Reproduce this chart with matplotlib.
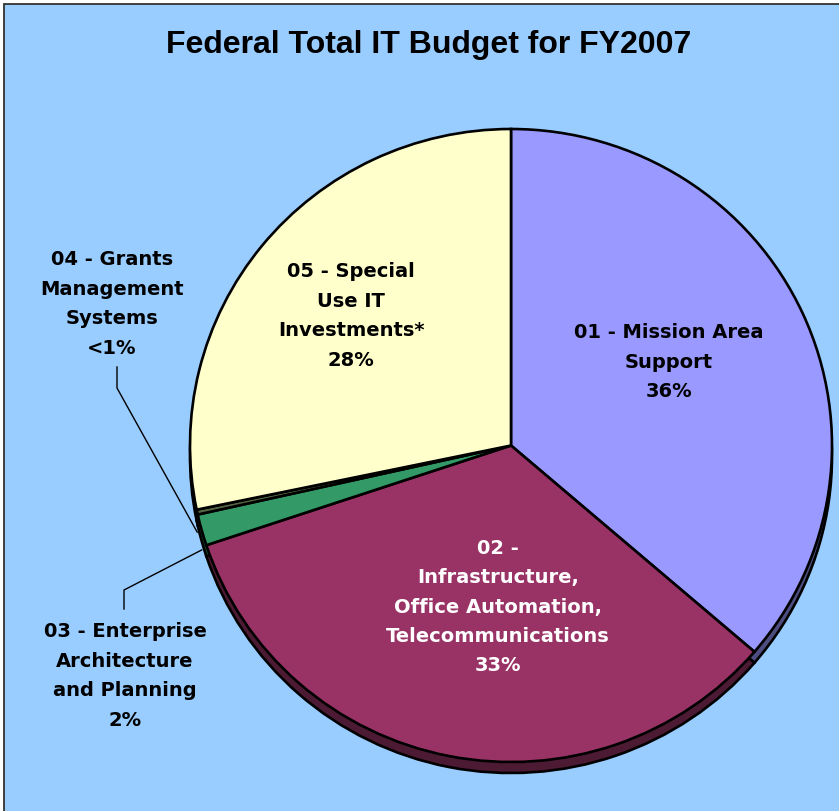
import matplotlib
matplotlib.use('Agg')
import matplotlib.pyplot as plt
from matplotlib.patches import Rectangle
import numpy as np

# ---- data ----
categories = ["01 - Mission Area\nSupport",
              "02 -\nInfrastructure,\nOffice Automation,\nTelecommunications",
              "03 - Enterprise\nArchitecture\nand Planning",
              "04 - Grants\nManagement\nSystems",
              "05 - Special\nUse IT\nInvestments*"]
shares = [36.3, 33.6, 1.6, 0.25, 28.25]
pct_labels = ["36%", "33%", "2%", "<1%", "28%"]
title = "Federal Total IT Budget for FY2007"

# ---- style ----
colors = ["#9999FF", "#993366", "#339966", "#556644", "#FFFFCC"]
side_colors = ["#4D4D80", "#4D1A33", "#1A4D33", "#333322", "#808066"]
text_colors = ["black", "white", "black", "black", "black"]
label_pos = [(669, 362), (498, 607), (125, 676), (112, 304), (351, 316)]

W, H = 839, 812
RX, RY = 321.0, 316.5
CX, CY = 511.0, 446.5
DEPTH = 11.0

fig = plt.figure(figsize=(W / 100, H / 100), dpi=100)
fig.patch.set_facecolor('white')
fig.patches.append(Rectangle((4 / W, -0.02), 1.2, (H - 5) / H + 0.02,
                             transform=fig.transFigure, facecolor='#99CCFF',
                             edgecolor='#333333', lw=1.3, zorder=-5))

ax = fig.add_axes([0, 0, 1, 1])
ax.set_facecolor('none')
ax.set_zorder(1)


def px(x, y):
    return ((x - CX) / RX, (CY - y) / RY)


wp = dict(edgecolor='black', linewidth=1.9)
ax.pie(shares, colors=side_colors, startangle=90, counterclock=False,
       center=(0, -DEPTH / RY), wedgeprops=wp)
wedges, _ = ax.pie(shares, colors=colors, startangle=90, counterclock=False,
                   center=(0, 0), wedgeprops=wp)

ax.set_aspect('auto')
ax.set_xlim(-CX / RX, (W - CX) / RX)
ax.set_ylim(-(H - CY) / RY, CY / RY)
ax.axis('off')

label_font = dict(family=['DejaVu Sans'], fontsize=14, fontweight='bold')
for cat, pct, pos, tc in zip(categories, pct_labels, label_pos, text_colors):
    x, y = px(*pos)
    ax.text(x, y, cat + "\n" + pct, ha='center', va='center', multialignment='center',
            color=tc, linespacing=1.69, **label_font)

# leader lines for the two small slices
leaders = {2: ((124, 610), (124, 591)), 3: ((117, 368), (117, 389))}
for i, (p0, p1) in leaders.items():
    w = wedges[i]
    th = np.deg2rad((w.theta1 + w.theta2) / 2)
    ex, ey = np.cos(th), np.sin(th) - 20 / RY
    a = px(*p0)
    b = px(*p1)
    ax.plot([a[0], b[0], ex], [a[1], b[1], ey], color='black', lw=1.0, zorder=5)

fig.text(429 / W, 1 - 45 / H, title, ha='center', va='center',
         family=['Liberation Sans'], fontsize=23, fontweight='bold', zorder=3)

fig.savefig('out.png', dpi=100, facecolor='white')
